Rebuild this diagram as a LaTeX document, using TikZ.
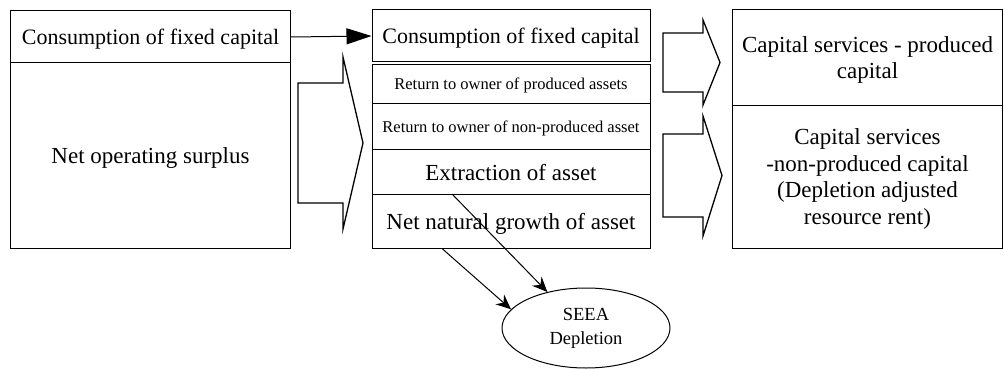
\documentclass[tikz,border=0pt]{standalone}
\usepackage{fontspec}
\setmainfont{Liberation Serif}
\usetikzlibrary{arrows.meta,shapes.geometric}
\begin{document}
\begin{tikzpicture}[x=1pt,y=-1pt,
  cell/.style={draw,line width=1pt,inner sep=0pt,align=center,text depth=0pt},
  big/.style={font=\fontsize{23}{26.7}\selectfont},
  mid/.style={font=\fontsize{22}{26}\selectfont},
  small/.style={font=\fontsize{16.5}{19}\selectfont},
  blockarrow/.style={draw,line width=1.3pt,line join=miter},
  flow/.style={-{Stealth[length=15pt,width=13pt,inset=5pt]},line width=1pt}]
\useasboundingbox (0,0) rectangle (1004,369);
% left column
\node[cell,mid,minimum width=280pt,minimum height=52pt] (lcfc) at (150.5,37) {Consumption of fixed capital};
\node[cell,big,minimum width=280pt,minimum height=185pt] (lnos) at (150.5,155.5) {Net operating surplus};
% middle column
\node[cell,mid,minimum width=278pt,minimum height=52pt] (m1) at (511,36) {Consumption of fixed capital};
\node[cell,small,minimum width=278pt,minimum height=39pt] (m2) at (511,84) {Return to owner of produced assets};
\node[cell,small,minimum width=278pt,minimum height=46pt] (m3) at (511,126.5) {Return to owner of non-produced asset};
\node[cell,big,minimum width=278pt,minimum height=45pt] (m4) at (511,172) {Extraction of asset};
\node[cell,big,minimum width=278pt,minimum height=54pt] (m5) at (511,221.5) {Net natural growth of asset};
% right column
\node[cell,big,minimum width=270pt,minimum height=95pt] (r1) at (867.5,57.5) {Capital services - produced\\capital};
\node[cell,big,minimum width=270pt,minimum height=143pt] (r2) at (867.5,176.5) {Capital services\\-non-produced capital\\(Depletion adjusted\\resource rent)};
% ellipse
\node[draw,ellipse,line width=1pt,minimum width=168pt,minimum height=80pt,inner sep=0pt,align=center,font=\fontsize{18.5}{24}\selectfont] (e) at (586,328) {SEEA\\Depletion};
% connector CFC -> CFC
\draw[line width=1pt,-{Triangle[length=25pt,width=16pt]}] (lcfc.east) -- (m1.west);
% block arrows
\draw[blockarrow] (343,83) -- (298,83) -- (298,203) -- (343,203) -- (343,229) -- (363,143) -- (343,57) -- cycle;
\draw[blockarrow] (703,33) -- (663,33) -- (663,92) -- (703,92) -- (703,105) -- (720,62.5) -- (703,20) -- cycle;
\draw[blockarrow] (703,134) -- (663,134) -- (663,217) -- (703,217) -- (703,236) -- (722,175.5) -- (703,116) -- cycle;
% arrows to ellipse
\coordinate (s1) at (442,248.5);
\coordinate (s2) at (452,194);
\draw[flow] (s1) -- (e.166);
\draw[flow] (s2) -- (e.137);
\end{tikzpicture}
\end{document}
